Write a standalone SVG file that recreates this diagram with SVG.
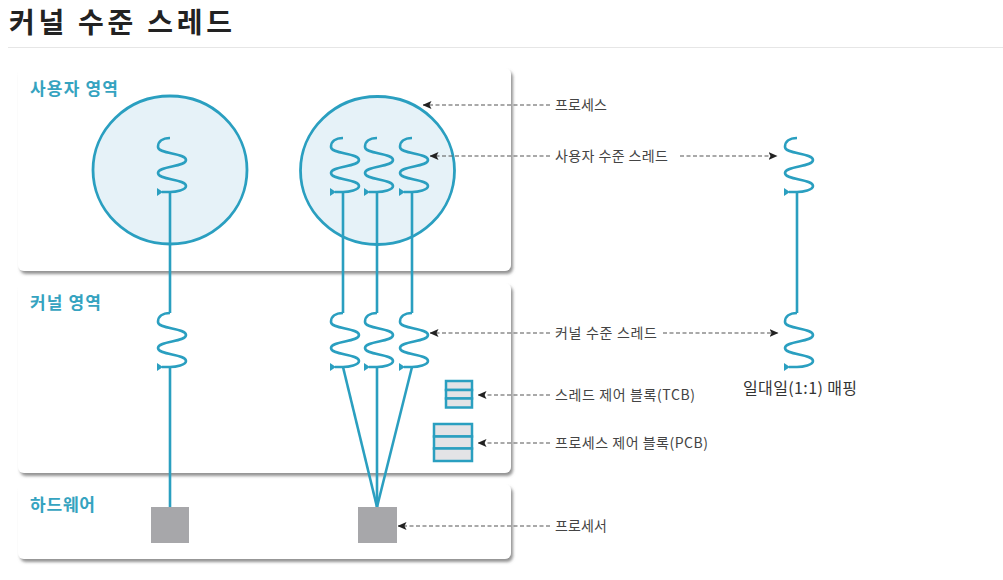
<svg xmlns="http://www.w3.org/2000/svg" xmlns:xlink="http://www.w3.org/1999/xlink" width="1003" height="580" viewBox="0 0 1003 580">
<style>
.title{font-family:"Noto Sans CJK KR","Noto Sans",sans-serif;font-weight:700;font-size:28px;fill:#222}
.area{font-family:"Noto Sans CJK KR","Noto Sans",sans-serif;font-weight:700;font-size:17px;fill:#35a3c0}
.lbl{font-family:"Noto Sans CJK KR","Noto Sans",sans-serif;font-size:14px;fill:#444}
.map{font-family:"Noto Sans CJK KR","Noto Sans",sans-serif;font-size:16px;fill:#333}
.panel{fill:#fff;filter:url(#sh)}
.proc{fill:#e6f2f8;stroke:#2a9fc0;stroke-width:2.8}
.wire{stroke:#2a9fc0;stroke-width:2.6;fill:none}
.dash{stroke:#555;stroke-width:1.2;stroke-dasharray:4 2.5;fill:none;marker-end:url(#ah)}
.blk{fill:#e3e3e6;stroke:#2a9fc0;stroke-width:2.5}
.cpu{fill:#a7a7aa}
</style>
<defs>
<filter id="sh" x="-5%" y="-5%" width="110%" height="115%">
<feDropShadow dx="2" dy="3" stdDeviation="1.5" flood-color="#777" flood-opacity="0.8"/>
</filter>
<marker id="ah" viewBox="0 0 9 8" refX="8.5" refY="4" markerWidth="9" markerHeight="8" markerUnits="userSpaceOnUse" orient="auto">
<path d="M0,0 L9,4 L0,8 L2,4 z" fill="#222"/>
</marker>
<g id="squig">
<path d="M0,0 C-8,0 -12,4 -12,9 C-12,16 16,15 16,22 C16,29 -12,28 -12,35 C-12,42 16,41 16,48 C16,52 6,54 0,54 L-8,54" fill="none" stroke="#2a9fc0" stroke-width="2.6"/>
<polygon points="-13,50 -13,58 -7,54" fill="#2a9fc0"/>
</g>
</defs>
<rect width="1003" height="580" fill="#fff"/>
<g id="title">
<text class="title" x="9" y="33" textLength="223" lengthAdjust="spacing">커널 수준 스레드</text>
<line x1="8" y1="47.5" x2="1003" y2="47.5" stroke="#e6e6e6" stroke-width="1"/>
</g>
<g id="user-area">
<rect class="panel" x="18" y="68" width="493" height="203" rx="6"/>
<text class="area" x="30" y="95" textLength="88" lengthAdjust="spacing">사용자 영역</text>
</g>
<g id="kernel-area">
<rect class="panel" x="18" y="283" width="493" height="190" rx="6"/>
<text class="area" x="30" y="309" textLength="71" lengthAdjust="spacing">커널 영역</text>
</g>
<g id="hw-area">
<rect class="panel" x="18" y="484" width="493" height="75" rx="6"/>
<text class="area" x="30" y="511" textLength="65" lengthAdjust="spacing">하드웨어</text>
</g>
<g id="process1"><ellipse class="proc" cx="170" cy="170" rx="77" ry="74"/></g>
<g id="process2"><ellipse class="proc" cx="377.5" cy="170.5" rx="77" ry="74"/></g>
<g id="connectors">
<line class="wire" x1="170" y1="192" x2="170" y2="313"/>
<line class="wire" x1="170" y1="367" x2="170" y2="507"/>
<line class="wire" x1="343" y1="192" x2="343" y2="313"/>
<line class="wire" x1="377" y1="192" x2="377" y2="313"/>
<line class="wire" x1="412" y1="192" x2="412" y2="313"/>
<line class="wire" x1="343" y1="367" x2="377" y2="507"/>
<line class="wire" x1="377" y1="367" x2="377" y2="507"/>
<line class="wire" x1="412" y1="367" x2="377" y2="507"/>
<line class="wire" x1="797" y1="192" x2="797" y2="313"/>
<line class="dash" x1="550" y1="105" x2="423" y2="105"/>
<line class="dash" x1="550" y1="156" x2="430" y2="156"/>
<line class="dash" x1="680" y1="156" x2="777" y2="156"/>
<line class="dash" x1="550" y1="333" x2="430" y2="333"/>
<line class="dash" x1="663" y1="333" x2="778" y2="333"/>
<line class="dash" x1="550" y1="395" x2="478" y2="395"/>
<line class="dash" x1="550" y1="443" x2="478" y2="443"/>
<line class="dash" x1="550" y1="526" x2="398" y2="526"/>
</g>
<g id="user-threads">
<use xlink:href="#squig" x="170" y="138"/>
<use xlink:href="#squig" x="343" y="138"/>
<use xlink:href="#squig" x="377" y="138"/>
<use xlink:href="#squig" x="412" y="138"/>
<use xlink:href="#squig" x="797" y="138"/>
</g>
<g id="kernel-threads">
<use xlink:href="#squig" x="170" y="313"/>
<use xlink:href="#squig" x="343" y="313"/>
<use xlink:href="#squig" x="377" y="313"/>
<use xlink:href="#squig" x="412" y="313"/>
<use xlink:href="#squig" x="797" y="313"/>
</g>
<g id="tcb">
<rect class="blk" x="446" y="381" width="26" height="9"/>
<rect class="blk" x="446" y="390" width="26" height="8.5"/>
<rect class="blk" x="446" y="398.5" width="26" height="9"/>
</g>
<g id="pcb">
<rect class="blk" x="434" y="424" width="38" height="12.5"/>
<rect class="blk" x="434" y="436.5" width="38" height="12"/>
<rect class="blk" x="434" y="448.5" width="38" height="12.5"/>
</g>
<g id="cpu1"><rect class="cpu" x="151" y="507" width="38" height="36"/></g>
<g id="cpu2"><rect class="cpu" x="358" y="507" width="39" height="36"/></g>
<g id="labels">
<text class="lbl" x="555" y="110" textLength="52" lengthAdjust="spacing">프로세스</text>
<text class="lbl" x="555" y="161" textLength="113" lengthAdjust="spacing">사용자 수준 스레드</text>
<text class="lbl" x="555" y="338" textLength="102" lengthAdjust="spacing">커널 수준 스레드</text>
<text class="lbl" x="555" y="400" textLength="140" lengthAdjust="spacing">스레드 제어 블록(TCB)</text>
<text class="lbl" x="555" y="448" textLength="153" lengthAdjust="spacing">프로세스 제어 블록(PCB)</text>
<text class="lbl" x="555" y="531" textLength="52" lengthAdjust="spacing">프로세서</text>
<text class="map" x="743" y="394" textLength="114" lengthAdjust="spacing">일대일(1:1) 매핑</text>
</g>
</svg>
